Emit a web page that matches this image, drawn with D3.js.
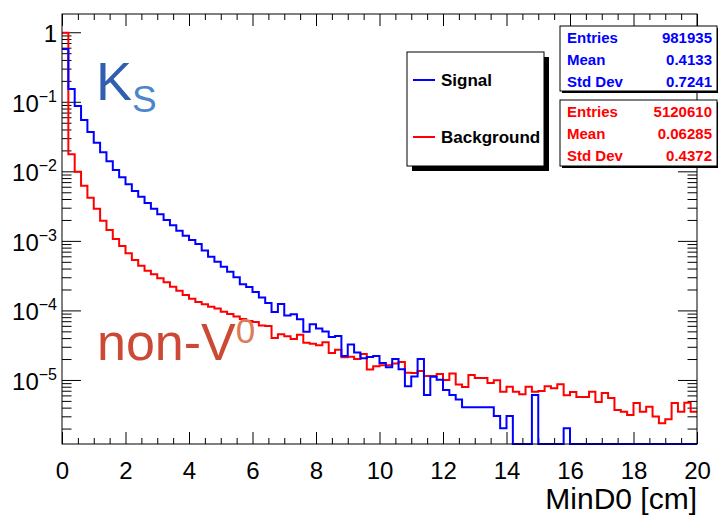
<!DOCTYPE html>
<html lang="en">
<head>
<meta charset="UTF-8">
<title>MinD0</title>
<script src="https://d3js.org/d3.v7.min.js"></script>
<style>
    body { margin: 0; background: #fff; }
    svg text { font-family: "Liberation Sans", Arial, Helvetica, sans-serif; }
</style>
</head>
<body>
<div id="chart"></div>
<script>
// binning of MinD0 [cm]
const nBins = 100, xMin = 0, xMax = 20;

// normalised bin contents (0 = empty bin)
const signal = [
    0.573, 0.1525, 0.0869, 0.0546, 0.0367, 0.0258, 0.01876, 0.01392, 0.01044, 0.0082,
    0.0065, 0.00521, 0.00431, 0.0035, 0.0029, 0.00241, 0.001995, 0.001674, 0.0014, 0.001186,
    0.001028, 0.000901, 0.000726, 0.000592, 0.000501, 0.000425, 0.00036, 0.000299, 0.000237, 0.000217,
    0.000184, 0.000154, 0.000128, 9.48e-5, 1.236e-4, 8.45e-5, 8.79e-5, 7.45e-5, 4.94e-5, 6.33e-5,
    5.49e-5, 4.97e-5, 4.14e-5, 4.28e-5, 2.21e-5, 3.23e-5, 2.48e-5, 2.05e-5, 2.14e-5, 2.22e-5,
    1.75e-5, 1.52e-5, 2.0e-5, 1.42e-5, 8.1e-6, 1.12e-5, 2.0e-5, 6.07e-6, 1.11e-5, 1.01e-5,
    7.17e-6, 6.07e-6, 5.24e-6, 4.04e-6, 4.04e-6, 4.04e-6, 4.04e-6, 4.04e-6, 3.03e-6, 2.02e-6,
    3.03e-6, 0, 0, 0, 6.07e-6, 0, 0, 0, 0, 2.02e-6,
    0, 0, 0, 0, 0, 0, 0, 0, 0, 0,
    0, 0, 0, 0, 0, 0, 0, 0, 0, 0
];
const background = [
    0.985, 0.01756, 0.00987, 0.0062, 0.00417, 0.0029, 0.00195, 0.001432, 0.001063, 0.000843,
    0.000662, 0.00053, 0.000439, 0.000372, 0.00033, 0.000289, 0.000254, 0.000219, 0.000192, 0.000166,
    0.000147, 0.000132, 1.224e-4, 1.13e-4, 1.065e-4, 9.58e-5, 8.87e-5, 8.17e-5, 7.52e-5, 7.04e-5,
    6.81e-5, 6.07e-5, 5.97e-5, 4.01e-5, 4.53e-5, 4.24e-5, 3.88e-5, 4.47e-5, 3.42e-5, 3.31e-5,
    3.15e-5, 3.49e-5, 2.44e-5, 2.71e-5, 2.12e-5, 2.16e-5, 2.0e-5, 2.36e-5, 1.41e-5, 1.58e-5,
    1.63e-5, 1.63e-5, 1.72e-5, 1.81e-5, 1.27e-5, 1.26e-5, 1.345e-5, 1.14e-5, 1.14e-5, 1.22e-5,
    9.98e-6, 1.24e-5, 8.6e-6, 7.92e-6, 1.18e-5, 1.07e-5, 1.07e-5, 9.04e-6, 9.89e-6, 6.78e-6,
    8.0e-6, 6.78e-6, 6.24e-6, 8.0e-6, 6.78e-6, 6.94e-6, 8.1e-6, 7.58e-6, 8.66e-6, 6.02e-6,
    6.71e-6, 5.69e-6, 5.69e-6, 6.78e-6, 4.82e-6, 6.49e-6, 5.5e-6, 3.7e-6, 3.5e-6, 3.13e-6,
    4.66e-6, 3.5e-6, 4.12e-6, 2.98e-6, 2.38e-6, 2.73e-6, 4.66e-6, 3.5e-6, 4.71e-6, 3.5e-6
];

const xMajorTicks = [0, 2, 4, 6, 8, 10, 12, 14, 16, 18, 20];
const yDecades = [0, -1, -2, -3, -4, -5];
const legendLabels = ["Signal", "Background"];
const statLabels = ["Entries", "Mean", "Std Dev"];
const signalStats = ["981935", "0.4133", "0.7241"];
const backgroundStats = ["5120610", "0.06285", "0.4372"];

const width = 718, height = 516;
const margin = { top: 14, right: 21, bottom: 72, left: 62 };
const plotW = width - margin.left - margin.right,
    plotH = height - margin.top - margin.bottom;

const svg = d3.select("#chart")
    .append("svg")
    .attr("width", width)
    .attr("height", height);

const g = svg.append("g")
    .attr("transform", `translate(${margin.left},${margin.top})`);

const x = d3.scaleLinear().domain([xMin, xMax]).range([0, plotW]);
const y = d3.scaleLog().domain([1.2e-6, 1.83]).range([plotH, 0]);
const binW = (xMax - xMin) / nBins;

// ticks (ROOT style: inside, on all four sides)
const xMinor = d3.range(xMin, xMax + 0.001, 0.5).filter(v => xMajorTicks.indexOf(v) < 0);
const yMajor = yDecades.map(e => Math.pow(10, e));
const yMinor = [];
for (let e = -6; e <= 0; e++) {
    for (let m = 2; m <= 9; m++) {
        const v = m * Math.pow(10, e);
        if (v > y.domain()[0] && v < y.domain()[1]) yMinor.push(v);
    }
}
const noDomain = sel => sel.select(".domain").remove();

g.append("g").attr("transform", `translate(0,${plotH})`)
    .call(d3.axisBottom(x).tickValues(xMajorTicks).tickSize(-12).tickPadding(18).tickFormat(d3.format("d")))
    .call(noDomain)
    .call(a => a.selectAll("text").attr("font-size", 24).attr("fill", "#000")
        .attr("font-family", "'Liberation Sans', Arial, sans-serif"));
g.append("g").attr("transform", `translate(0,${plotH})`)
    .call(d3.axisBottom(x).tickValues(xMinor).tickSize(-6).tickFormat("")).call(noDomain);
g.append("g")
    .call(d3.axisTop(x).tickValues(xMajorTicks).tickSize(-12).tickFormat("")).call(noDomain);
g.append("g")
    .call(d3.axisTop(x).tickValues(xMinor).tickSize(-6).tickFormat("")).call(noDomain);

g.append("g").call(d3.axisLeft(y).tickValues(yMajor).tickSize(-19).tickFormat("")).call(noDomain);
g.append("g").call(d3.axisLeft(y).tickValues(yMinor).tickSize(-9.5).tickFormat("")).call(noDomain);
g.append("g").attr("transform", `translate(${plotW},0)`)
    .call(d3.axisRight(y).tickValues(yMajor).tickSize(-19).tickFormat("")).call(noDomain);
g.append("g").attr("transform", `translate(${plotW},0)`)
    .call(d3.axisRight(y).tickValues(yMinor).tickSize(-9.5).tickFormat("")).call(noDomain);

g.selectAll(".tick line").attr("stroke", "#000");

// y labels: 1, 10^-1 ...
const yLab = g.append("g").attr("font-size", 24).attr("text-anchor", "end");
yDecades.forEach(e => {
    const t = yLab.append("text")
        .attr("x", -5)
        .attr("y", y(Math.pow(10, e)) + 10);
    if (e === 0) {
        t.text("1");
    } else {
        t.append("tspan").text("10");
        t.append("tspan").attr("font-size", 16).attr("dy", -10).text("\u2212" + (-e));
    }
});

// histograms
const line = d3.line()
    .curve(d3.curveStepAfter)
    .x(d => x(d[0]))
    .y(d => d[1] > y.domain()[0] ? y(d[1]) : plotH);

function steps(vals) {
    const pts = vals.map((v, i) => [xMin + i * binW, v]);
    pts.push([xMax, vals[vals.length - 1]]);
    return pts;
}

g.append("path").attr("d", line(steps(background)))
    .attr("fill", "none").attr("stroke", "#ff0000").attr("stroke-width", 2);
g.append("path").attr("d", line(steps(signal)))
    .attr("fill", "none").attr("stroke", "#0000ff").attr("stroke-width", 2);

// frame
g.append("rect")
    .attr("width", plotW).attr("height", plotH)
    .attr("fill", "none").attr("stroke", "#000").attr("stroke-width", 1);

// axis title
svg.append("text")
    .attr("x", margin.left + plotW)
    .attr("y", 509)
    .attr("text-anchor", "end")
    .attr("font-size", 30)
    .text("MinD0 [cm]");

// K_S and non-V0 labels
const ks = svg.append("text").attr("x", 96).attr("y", 100);
ks.append("tspan").attr("font-size", 54).attr("fill", "#2f5fae").text("K");
ks.append("tspan").attr("font-size", 37).attr("fill", "#4b86cc").attr("dy", 12).text("S");

const nv = svg.append("text").attr("x", 97).attr("y", 360);
nv.append("tspan").attr("font-size", 52).attr("fill", "#cc4a35").text("non-V");
nv.append("tspan").attr("font-size", 35).attr("fill", "#dd7a5a").attr("dy", -17).text("0");

// legend
const legColors = ["#0000ff", "#ff0000"];
const leg = { x: 407, y: 52, w: 137, h: 114 };
svg.append("rect").attr("x", leg.x + 5).attr("y", leg.y + 5)
    .attr("width", leg.w).attr("height", leg.h).attr("fill", "#000");
svg.append("rect").attr("x", leg.x).attr("y", leg.y)
    .attr("width", leg.w).attr("height", leg.h)
    .attr("fill", "#fff").attr("stroke", "#000").attr("stroke-width", 1);
legendLabels.forEach((name, i) => {
    const ly = leg.y + 28 + i * 57;
    svg.append("line").attr("x1", leg.x + 6).attr("x2", leg.x + 28)
        .attr("y1", ly).attr("y2", ly)
        .attr("stroke", legColors[i]).attr("stroke-width", 2);
    svg.append("text").attr("x", leg.x + 34).attr("y", ly + 6)
        .attr("font-size", 17).attr("font-weight", "bold").text(name);
});

// stat boxes
function statBox(top, h, vals, color) {
    svg.append("rect").attr("x", 562).attr("y", top + 2)
        .attr("width", 157).attr("height", h).attr("fill", "#000");
    svg.append("rect").attr("x", 560).attr("y", top)
        .attr("width", 157).attr("height", h)
        .attr("fill", "#fff").attr("stroke", "#000").attr("stroke-width", 1);
    statLabels.forEach((lab, i) => {
        const by = top + 17 + i * 22;
        svg.append("text").attr("x", 567).attr("y", by)
            .attr("font-size", 15).attr("font-weight", "bold").attr("fill", color).text(lab);
        svg.append("text").attr("x", 712).attr("y", by).attr("text-anchor", "end")
            .attr("font-size", 15).attr("font-weight", "bold").attr("fill", color).text(vals[i]);
    });
}
statBox(26, 65, signalStats, "#0000ff");
statBox(100, 66, backgroundStats, "#ff0000");
</script>
</body>
</html>
